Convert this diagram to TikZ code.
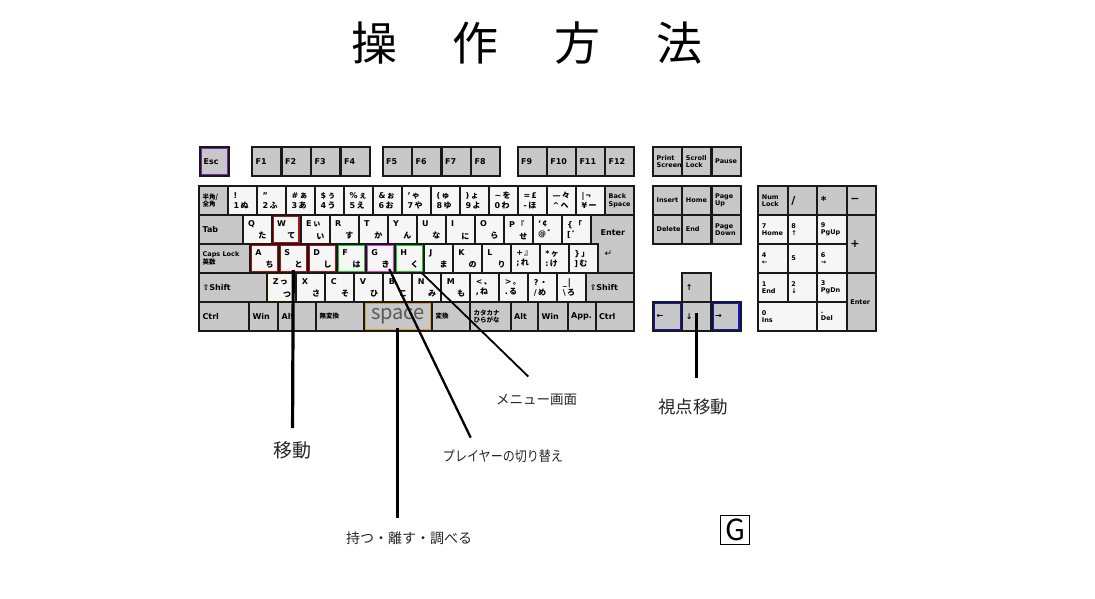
\documentclass[tikz,border=0pt]{standalone}
\usepackage{fontspec}
\setmainfont{DejaVu Sans}
\newfontfamily\jp{Noto Sans CJK JP}
\newfontfamily\jpc{Noto Sans CJK JP}[FakeStretch=0.86]
\usetikzlibrary{positioning, calc}
\definecolor{kgrey}{RGB}{200, 200, 200}
\definecolor{kwhite}{RGB}{246, 246, 246}
\definecolor{kline}{RGB}{25, 25, 25}
\definecolor{kred}{RGB}{170, 20, 20}
\definecolor{kgreen}{RGB}{30, 200, 30}
\definecolor{kmag}{RGB}{220, 60, 220}
\definecolor{korange}{RGB}{225, 160, 50}
\definecolor{kblue}{RGB}{20, 20, 200}
\definecolor{kpurple}{RGB}{120, 40, 180}
\definecolor{kcream}{RGB}{255, 243, 215}
\newcommand\kf{\fontsize{8}{10}\selectfont\bfseries}
\newcommand\kfs{\fontsize{6.5}{7.5}\selectfont\bfseries}

\begin{document}
\begin{tikzpicture}[x=1pt, y=-1pt,
    key/.style={draw=kline, line width=2pt, fill=kgrey, minimum width=29pt,
                minimum height=29pt, anchor=north west, inner sep=0pt, outer sep=0pt},
    wkey/.style={key, fill=kwhite},
    kl/.style={inner sep=0.4pt, font=\kf, align=left, text=black},
    lt/.style={label={[kl, anchor=west, xshift=3pt]west:{#1}}},
    st/.style={label={[kl, font=\kfs, anchor=west, xshift=3pt]west:{#1}}},
    jt/.style={label={[kl, font=\jp\kfs, anchor=west, xshift=3pt]west:{#1}}},
    bt/.style={label={[kl, font=\fontsize{11}{11}\selectfont\bfseries, anchor=west, xshift=3pt]west:{#1}}},
    tw/.style={label={[kl, anchor=west, xshift=5pt]west:{#1}}},
    tl/.style={label={[kl, anchor=north west, xshift=5pt, yshift=-5pt]north west:{#1}}},
    br/.style={label={[kl, anchor=south east, xshift=-4.5pt, yshift=4pt]south east:{\jp #1}}},
    lead/.style={line width=3.2pt},
    note/.style={inner sep=2pt, text=black!85}]

    \fill[white] (0,0) rectangle (1095,598);
    \useasboundingbox (0,0) rectangle (1095,598);

    % Title
    \node[font=\jp\fontsize{46}{46}\selectfont, inner sep=0pt] (title) at (527,43)
        {操\hspace{56pt}作\hspace{56pt}方\hspace{56pt}法};

    % Function row
    \node[key, lt=Esc] (kesc) at (200,147) {};
    \foreach \i in {1,...,4}
        \node[key, lt=F\i] (f\i) at ({252+(\i-1)*29.5}, 147) {};
    \foreach \i in {5,...,8}
        \node[key, lt=F\i] (f\i) at ({382.5+(\i-5)*29.5}, 147) {};
    \foreach \i in {9,...,12}
        \node[key, lt=F\i] (f\i) at ({517.5+(\i-9)*29.2}, 147) {};

    % Number row
    \node[key, jt={半角/\\全角}] (khan) at (199,186) {};
    \foreach \a/\b/\c/\d [count=\i] in {!//1/ぬ, "//2/ふ, \#/ぁ/3/あ, \$/ぅ/4/う,
            \%/ぇ/5/え, \&/ぉ/6/お, '/ゃ/7/や, {(}/ゅ/8/ゆ, {)}/ょ/9/よ,
            \textasciitilde/を/0/わ, =/£/-/ほ, —/々/\textasciicircum/へ, |/¬/¥/ー}
        \node[wkey, tw={\a\,{\jp\b}\\\c\,{\jp\d}}] (n\i) at ({199+\i*29}, 186) {};
    \node[key, st={Back\\Space}] (kbs) at (605,186) {};

    % Q row
    \node[key, minimum width=43.5pt, lt=Tab] (ktab) at (199,215) {};
    \foreach \n/\a/\b/\d [count=\i from 0] in {kQ/Q//た, kW/W//て, kE/E/ぃ/い,
            kR/R//す, kT/T//か, kY/Y//ん, kU/U//な, kI/I//に, kO/O//ら, kP/P/『/せ}
        \node[wkey, tl={\a\,{\jp\b}}, br=\d] (\n) at ({242.5+\i*29}, 215) {};
    \foreach \n/\a/\b/\c/\d [count=\i from 10] in {kat/`/¢/@/゛, klb/\{/「/[/゜}
        \node[wkey, tw={\a\,{\jp\b}\\\c\,{\jp\d}}] (\n) at ({242.5+\i*29}, 215) {};
    \draw[draw=kline, line width=2pt, fill=kgrey] (590.5,215) -- (634,215) -- (634,273)
        -- (598.25,273) -- (598.25,244) -- (590.5,244) -- cycle;
    \node[kl, anchor=west] (kent) at (600,233) {Enter};
    \node[kl, anchor=west, font=\fontsize{9}{9}\selectfont] (kret) at (604,254) {↵};

    % A row
    \node[key, minimum width=50.75pt, st={Caps Lock\\{\jp 英数}}] (kcaps) at (199,244) {};
    \foreach \n/\a/\d [count=\i from 0] in {kA/A/ち, kS/S/と, kD/D/し, kF/F/は,
            kG/G/き, kH/H/く, kJ/J/ま, kK/K/の, kL/L/り}
        \node[wkey, tl=\a, br=\d] (\n) at ({249.75+\i*29}, 244) {};
    \foreach \n/\a/\b/\c/\d [count=\i from 9] in {ksc/+/』/;/れ, kco/*/ヶ/:/け, krb/\}/」/]/む}
        \node[wkey, tw={\a\,{\jp\b}\\\c\,{\jp\d}}] (\n) at ({249.75+\i*29}, 244) {};

    % Z row
    \node[key, minimum width=68.15pt, lt=⇧Shift] (klsh) at (199,273) {};
    \foreach \n/\a/\b/\d [count=\i from 0] in {kZ/Z/っ/つ, kX/X//さ, kC/C//そ,
            kV/V//ひ, kB/B//こ, kN/N//み, kM/M//も}
        \node[wkey, tl={\a\,{\jp\b}}, br=\d] (\n) at ({267.15+\i*29}, 273) {};
    \foreach \n/\a/\b/\c/\d [count=\i from 7] in {kcm/</、/{,}/ね, kdt/>/。/./る,
            ksl/?/・/{/}/め, kbsl/\_/|/\textbackslash/ろ}
        \node[wkey, tw={\a\,{\jp\b}\\\c\,{\jp\d}}] (\n) at ({267.15+\i*29}, 273) {};
    \node[key, minimum width=47.85pt, lt=⇧Shift] (krsh) at (586.15,273) {};

    % Bottom row
    \node[key, minimum width=50pt, lt=Ctrl] (klctrl) at (199,302) {};
    \node[key, minimum width=29pt, lt=Win] (klwin) at (249,302) {};
    \node[key, minimum width=38pt, lt=Alt] (klalt) at (278,302) {};
    \node[key, minimum width=47.5pt, jt=無変換] (kmuh) at (316,302) {};
    \node[key, minimum width=68.5pt, font=\jp\fontsize{20}{20}\selectfont,
          text=black!65] (kspace) at (363.5,302) {space};
    \node[key, minimum width=38pt, jt=変換] (khen) at (432,302) {};
    \node[key, minimum width=40.5pt, jt={カタカナ\\ひらがな}] (kkana) at (470,302) {};
    \node[key, minimum width=27.5pt, lt=Alt] (kralt) at (510.5,302) {};
    \node[key, minimum width=29.5pt, lt=Win] (krwin) at (538,302) {};
    \node[key, minimum width=28pt, lt=App.] (kapp) at (567.5,302) {};
    \node[key, minimum width=38.5pt, lt=Ctrl] (krctrl) at (595.5,302) {};

    % Navigation block
    \node[key, st={Print\\Screen}] (kprt) at (653,147) {};
    \node[key, st={Scroll\\Lock}] (kscr) at (682.3,147) {};
    \node[key, st=Pause] (kpau) at (711.6,147) {};
    \node[key, st=Insert] (kins) at (653,186) {};
    \node[key, st=Home] (khome) at (682.3,186) {};
    \node[key, st={Page\\Up}] (kpgu) at (711.6,186) {};
    \node[key, st=Delete] (kdel) at (653,215) {};
    \node[key, st=End] (kend) at (682.3,215) {};
    \node[key, st={Page\\Down}] (kpgd) at (711.6,215) {};
    \node[key, lt=↑] (kup) at (682.3,273) {};
    \node[key, lt=←] (kleft) at (653,302) {};
    \node[key, lt=↓] (kdown) at (682.3,302) {};
    \node[key, lt=→] (kright) at (711.6,302) {};

    % Ten key
    \node[key, minimum width=29.5pt, st={Num\\Lock}] (pnum) at (758.3,186) {};
    \node[key, minimum width=29.5pt, bt=/] (pdiv) at (787.8,186) {};
    \node[key, minimum width=29.5pt, bt=*] (pmul) at (817.3,186) {};
    \node[key, minimum width=29.5pt, bt=−] (psub) at (846.8,186) {};
    \foreach \t [count=\i from 0] in {{7\\Home}, {8\\↑}, {9\\PgUp}}
        \node[wkey, minimum width=29.5pt, st=\t] (p\i a) at ({758.3+\i*29.5}, 215) {};
    \foreach \t [count=\i from 0] in {{4\\←}, 5, {6\\→}}
        \node[wkey, minimum width=29.5pt, st=\t] (p\i b) at ({758.3+\i*29.5}, 244) {};
    \foreach \t [count=\i from 0] in {{1\\End}, {2\\↓}, {3\\PgDn}}
        \node[wkey, minimum width=29.5pt, st=\t] (p\i c) at ({758.3+\i*29.5}, 273) {};
    \node[key, minimum width=29.5pt, minimum height=58pt, bt=+] (padd) at (846.8,215) {};
    \node[key, minimum width=29.5pt, minimum height=58pt, st=Enter] (pent) at (846.8,273) {};
    \node[wkey, minimum width=59pt, st={0\\Ins}] (pzero) at (758.3,302) {};
    \node[wkey, minimum width=29.5pt, st={.\\Del}] (pdot) at (817.3,302) {};

    % Coloured key edges
    \foreach \k/\c in {kesc/kpurple, kW/kred, kA/kred, kS/kred, kD/kred, kF/kgreen,
            kG/kmag, kH/kgreen, kZ/kcream, kspace/korange, kleft/kblue, kright/kblue}
        \draw[\c, line width=1.2pt] ([shift={(1.6pt,-1.6pt)}]\k.north west)
            rectangle ([shift={(-1.6pt,1.6pt)}]\k.south east);

    % Notes
    \node[note, font=\jp\fontsize{19}{20}\selectfont] (lmove) at (292.5,450) {移動};
    \node[note, font=\jp\fontsize{14}{15}\selectfont] (lhold) at (409,538) {持つ・離す・調べる};
    \node[note, font=\jpc\fontsize{14}{15}\selectfont] (lswitch) at (503,456.5) {プレイヤーの切り替え};
    \node[note, font=\jp\fontsize{13.5}{14}\selectfont] (lmenu) at (536.7,400) {メニュー画面};
    \node[note, font=\jp\fontsize{17.5}{18}\selectfont] (lview) at (693,406.5) {視点移動};
    \node[draw=black, line width=1.3pt, minimum size=29pt, inner sep=0pt,
          font=\jp\fontsize{29}{29}\selectfont] (gbox) at (735.3,530) {G};

    % Leaders
    \draw[lead, shorten >=11pt] ([yshift=3pt]kS.south) -- (lmove.north);
    \draw[lead, shorten >=11pt] ([yshift=3pt]kspace.south) -- (kspace.south |- lhold.north);
    \draw[lead, line width=2.3pt] ([shift={(9pt,4pt)}]kG.south) -- ([shift={(-32.3pt,10.2pt)}]lswitch.north);
    \draw[lead, line width=1.8pt] ([xshift=12.5pt]kH.south) -- ([shift={(-8.4pt,15.5pt)}]lmenu.north);
    \draw[lead, shorten >=18pt] ([yshift=4pt]kdown.center) -- (kdown.center |- lview.north);
\end{tikzpicture}
\end{document}
